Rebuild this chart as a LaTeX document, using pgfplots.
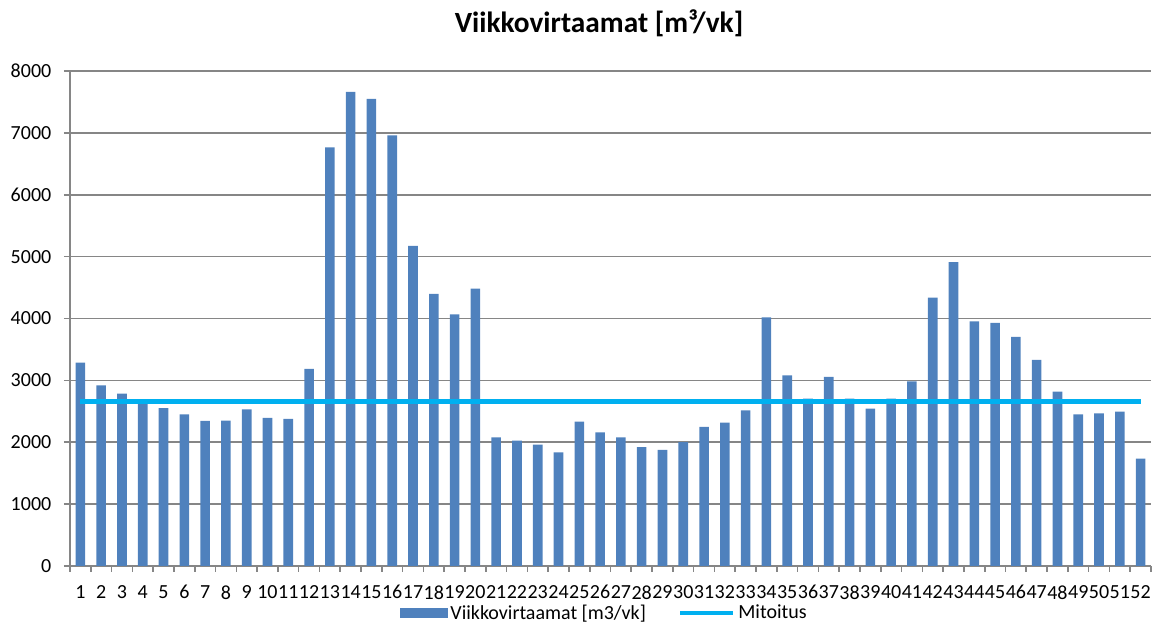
\documentclass[border=0pt]{standalone}
\usepackage{pgfplots}
\pgfplotsset{compat=1.18}
\usepackage{fontspec}
\setmainfont{Carlito}
\definecolor{barblue}{HTML}{4F81BD}
\definecolor{lineblue}{HTML}{00B0F0}
\definecolor{gridgray}{HTML}{868686}
\begin{document}
\begin{tikzpicture}
\useasboundingbox (0,0) rectangle (866.25pt,467.25pt);
\begin{axis}[
  at={(52.5pt,42.75pt)}, anchor=south west,
  scale only axis, width=810.75pt, height=371.25pt,
  xmin=0.5, xmax=52.5, ymin=0, ymax=8000,
  axis x line*=bottom, axis y line*=left,
  axis line style={gridgray, line width=1.2pt, -},
  ymajorgrids, grid style={gridgray, line width=1.2pt},
  ytick={0,1000,...,8000},
  xtick={0.5,1.5,...,52.5}, xticklabels={},
  extra x ticks={1,...,52},
  extra x tick style={major tick length=0pt},
  tick align=outside, major tick length=4.5pt,
  tick style={gridgray, line width=1.2pt},
  /pgf/number format/assume math mode=true,
  /pgf/number format/1000 sep={},
  ticklabel style={font=\fontsize{15}{18}\selectfont, text=black},
  yticklabel style={xshift=-6pt},
  xticklabel style={yshift=-11pt},
  legend style={at={(0.4945,-0.095)}, anchor=center, draw=none, fill=none,
    legend columns=2, font=\fontsize{15}{18}\selectfont,
    /tikz/every even column/.append style={column sep=22pt},
    inner sep=0pt},
  clip=false,
]
\addplot[ybar, bar width=7.2pt, fill=barblue, draw=none,
  legend image code/.code={\fill[barblue] (0pt,-3.75pt) rectangle (36pt,3.75pt);}]
coordinates {
(1,3285) (2,2918) (3,2784) (4,2650) (5,2550) (6,2450) (7,2344) (8,2350)
(9,2533) (10,2394) (11,2377) (12,3185) (13,6765) (14,7661) (15,7550) (16,6960)
(17,5173) (18,4399) (19,4065) (20,4482) (21,2077) (22,2027) (23,1960) (24,1837)
(25,2333) (26,2160) (27,2077) (28,1921) (29,1876) (30,2004) (31,2249) (32,2316)
(33,2517) (34,4020) (35,3079) (36,2706) (37,3057) (38,2706) (39,2545) (40,2706)
(41,2984) (42,4337) (43,4911) (44,3953) (45,3931) (46,3703) (47,3330) (48,2817)
(49,2450) (50,2467) (51,2494) (52,1737)
};
\addlegendentry{Viikkovirtaamat [m3/vk]}
\addplot[lineblue, line width=3.6pt, no marks,
  legend image code/.code={\draw[lineblue, line width=3.3pt] (0pt,0pt) -- (40pt,0pt);}]
coordinates {(1,2660) (52,2660)};
\addlegendentry{Mitoitus}
\end{axis}
\node[font=\fontsize{22}{26}\selectfont\bfseries] at (449.25pt,450pt) {Viikkovirtaamat [m³/vk]};
\end{tikzpicture}
\end{document}
